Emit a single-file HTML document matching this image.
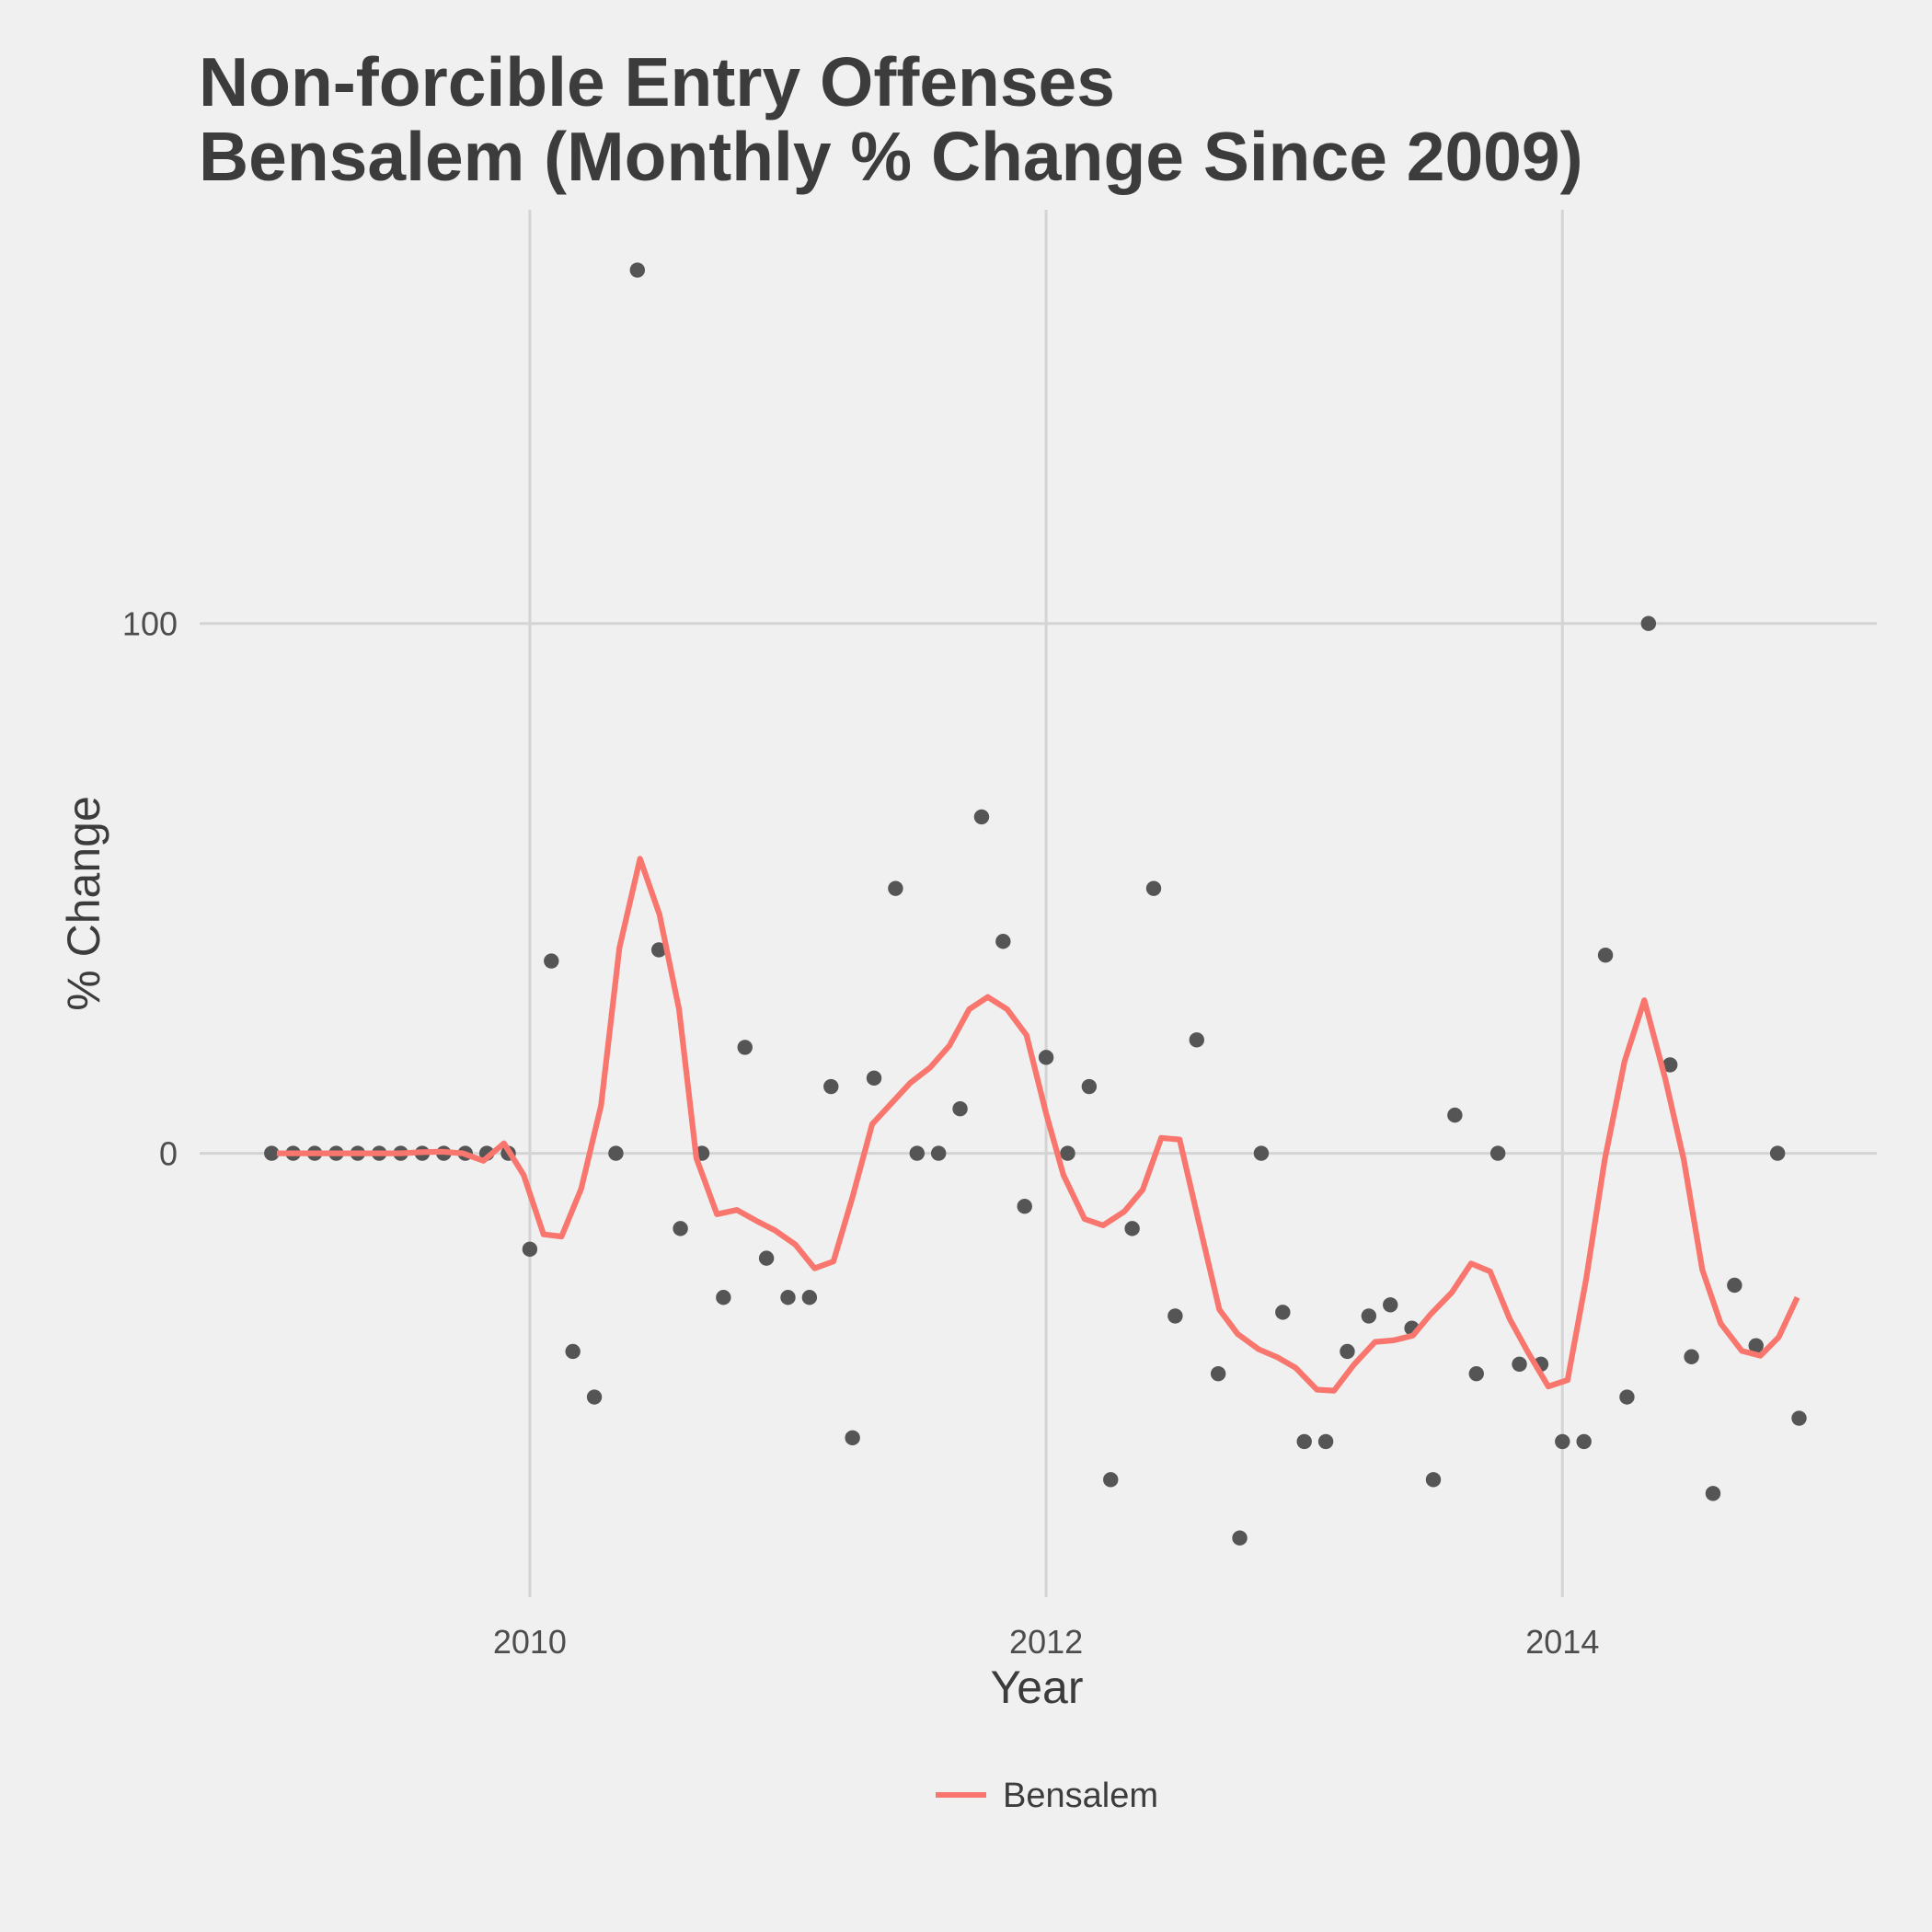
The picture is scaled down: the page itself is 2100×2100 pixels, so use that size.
<!DOCTYPE html>
<html><head><meta charset="utf-8"><style>
html,body{margin:0;padding:0;background:#f0f0f0;}
svg{display:block;font-family:"Liberation Sans",Arial,sans-serif;}
</style></head><body>
<svg id="chart" width="2100" height="2100" viewBox="0 0 2100 2100" xmlns="http://www.w3.org/2000/svg">
<rect x="0" y="0" width="2100" height="2100" fill="#f0f0f0"/>
<text x="216" y="115" font-size="75" font-weight="bold" fill="#3c3c3c">Non-forcible Entry Offenses</text>
<text x="216" y="196" font-size="75" font-weight="bold" fill="#3c3c3c">Bensalem (Monthly % Change Since 2009)</text>
<g id="grid"></g>
<g id="marks"></g>
<g id="axes"></g>
<text x="1127" y="1851" font-size="50" fill="#3c3c3c" text-anchor="middle">Year</text>
<text x="0" y="0" font-size="50" fill="#3c3c3c" text-anchor="middle" transform="translate(108,982) rotate(-90)">% Change</text>
<g>
<line x1="1017" y1="1951" x2="1072" y2="1951" stroke="#f8766d" stroke-width="6"/>
<text x="1090" y="1964" font-size="38" fill="#3c3c3c">Bensalem</text>
</g>
</svg>
<script>
const pointValues = [0,0,0,0,0,0,0,0,0,0,0,0,
 -18.1,36.3,-37.4,-46,0,166.7,38.4,-14.2,0,-27.2,20,-19.8,
 -27.2,-27.2,12.6,-53.7,14.2,50,0,0,8.4,63.5,40,-10,
 18.1,0,12.6,-61.6,-14.2,50,-30.7,21.4,-41.6,-72.6,0,-30,
 -54.4,-54.4,-37.4,-30.7,-28.6,-33,-61.6,7.2,-41.6,0,-39.8,-39.8,
 -54.4,-54.4,37.4,-46,100,16.7,-38.4,-64.2,-24.9,-36.3,0,-50];
const startYear = 2009;
const lineYears = [2009.02,2009.10,2009.18,2009.26,2009.34,2009.42,2009.50,2009.58,2009.66,2009.74,2009.82,2009.90,
 2009.976,2010.053,2010.123,2010.199,2010.276,2010.347,2010.427,2010.502,2010.578,2010.645,2010.725,2010.802,2010.876,2010.948,
 2011.028,2011.103,2011.176,2011.251,2011.326,2011.402,2011.474,2011.551,2011.625,2011.702,2011.774,2011.849,2011.924,2012.0,
 2012.067,2012.149,2012.221,2012.303,2012.374,2012.446,2012.517,2012.593,2012.671,2012.742,2012.824,2012.896,2012.967,
 2013.049,2013.115,2013.192,2013.274,2013.346,2013.421,2013.489,2013.571,2013.646,2013.720,2013.796,2013.867,2013.945,
 2014.020,2014.092,2014.164,2014.241,2014.317,2014.399,2014.470,2014.542,2014.613,2014.695,2014.767,2014.838,2014.910];
const lineValues = [0,0,0,0,0,0,0,0.2,0.3,0,-1.4,1.9,
 -4.1,-15.3,-15.7,-6.7,9.0,38.8,55.6,45.1,27.2,-0.9,-11.5,-10.7,-12.7,-14.5,
 -17.2,-21.7,-20.4,-8.1,5.5,9.5,13.3,16.2,20.3,27.2,29.5,27.2,22.3,7.5,
 -4.1,-12.4,-13.6,-11.0,-6.9,2.9,2.6,-13.3,-29.5,-34.1,-37.0,-38.5,-40.5,
 -44.6,-44.8,-39.9,-35.6,-35.3,-34.4,-30.4,-26.3,-20.8,-22.3,-31.3,-37.6,-44.0,
 -42.8,-23.7,-1.2,17.4,28.9,13.9,-1.2,-22.0,-32.1,-37.3,-38.2,-34.7,-27.2];
const xTicks = [2010,2012,2014];
const xTickLabels = ["2010","2012","2014"];
const yTicks = [0,100];
const yTickLabels = ["0","100"];

const NS = "http://www.w3.org/2000/svg";
const PL = 217, PR = 2040, PT = 228, PB = 1736;
function xScale(yr){ return 575.9 + (yr - 2010) * 280.6; }
function yScale(v){ return 1253.6 - v * 5.759; }
function mk(tag, attrs, parent){ const e = document.createElementNS(NS, tag); for (const k in attrs) e.setAttribute(k, attrs[k]); parent.appendChild(e); return e; }

const grid = document.getElementById('grid');
const axes = document.getElementById('axes');
const marks = document.getElementById('marks');
xTicks.forEach((t,i)=>{
  const gl = mk('line',{x1:xScale(t),x2:xScale(t),y1:PT,y2:PB,stroke:'#d4d4d4','stroke-width':3},grid);
  
  
  const tl = mk('text',{x:xScale(t),y:1797,'font-size':36,fill:'#4d4d4d','text-anchor':'middle'},axes);
  tl.textContent = xTickLabels[i];
  
  
});
yTicks.forEach((t,i)=>{
  const gl = mk('line',{x1:PL,x2:PR,y1:yScale(t),y2:yScale(t),stroke:'#d4d4d4','stroke-width':3},grid);
  
  
  const tl = mk('text',{x:193,y:yScale(t)+13,'font-size':36,fill:'#4d4d4d','text-anchor':'end'},axes);
  tl.textContent = yTickLabels[i];
  
  
});
pointValues.forEach((v,i)=>{
  const c = mk('circle',{cx:xScale(startYear + i/12),cy:yScale(v),r:8.2,fill:'#555555'},marks);
  
  
});
const d = lineValues.map((v,i)=>(i?'L':'M')+xScale(lineYears[i]).toFixed(1)+','+yScale(v).toFixed(1)).join(' ');
const path = mk('path',{d:d,fill:'none',stroke:'#f8766d','stroke-width':6.2,'stroke-linejoin':'round'},marks);


</script>
</body></html>
